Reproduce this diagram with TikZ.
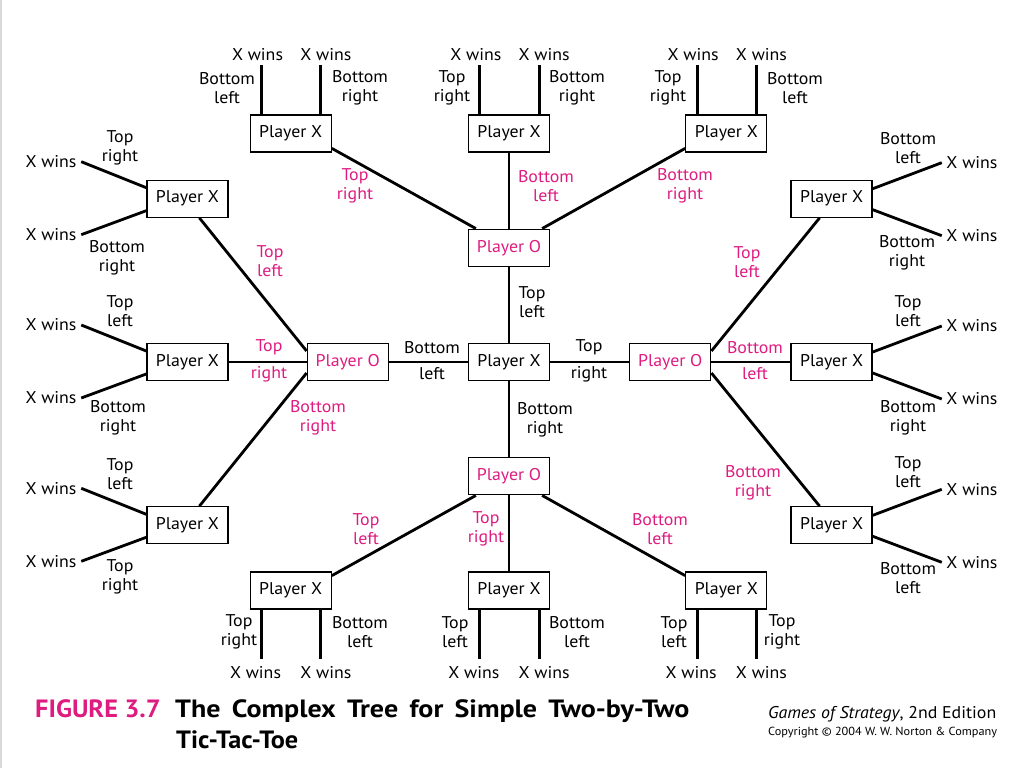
\documentclass[tikz,border=0pt]{standalone}
\usepackage{fontspec}
\setmainfont{PT Sans}[FakeStretch=1.05]
\newfontfamily\titlefont{PT Sans}[FakeStretch=1.12, WordSpace=1.6]
\usetikzlibrary{positioning}
\definecolor{OMagenta}{RGB}{222,28,128}
\tikzstyle{PlayerBox}=[rectangle, draw=black, line width=1.3pt, fill=white, minimum width=81pt, minimum height=37pt, inner sep=0pt, font=\fontsize{17}{19}\selectfont]
\tikzstyle{PlayerO}=[PlayerBox, text=OMagenta]
\tikzstyle{Jugada}=[align=center, inner sep=2pt, font=\fontsize{17}{19}\selectfont]
\tikzstyle{JugadaO}=[Jugada, text=OMagenta]
\tikzstyle{Win}=[font=\fontsize{17}{19}\selectfont]
\tikzstyle{Rama}=[-, line width=2.8pt]
\tikzstyle{Pie}=[anchor=base west, inner sep=0pt]

\begin{document}
\begin{tikzpicture}[x=1pt, y=-1pt]
			\useasboundingbox (0,0) rectangle (1024,768);
			\draw[gray!30, line width=1.5pt] (1,0) -- (1,768);

			%Nodos
			\node[PlayerBox]	(centro)								at (509,362)	{Player X};
			\node[PlayerO]		(potop)		[above=76pt of centro]					{Player O};
			\node[PlayerO]		(pobot)		[below=76pt of centro]					{Player O};
			\node[PlayerO]		(poleft)	[left=79pt of centro]					{Player O};
			\node[PlayerO]		(poright)	[right=79pt of centro]					{Player O};

			\node[PlayerBox]	(xtm)		[above=76pt of potop]					{Player X};
			\node[PlayerBox]	(xtl)		[above left=76pt and 136pt of potop]		{Player X};
			\node[PlayerBox]	(xtr)		[above right=76pt and 135pt of potop]	{Player X};

			\node[PlayerBox]	(xlm)		[left=78pt of poleft]					{Player X};
			\node[PlayerBox]	(xlt)		[above left=125pt and 78pt of poleft]	{Player X};
			\node[PlayerBox]	(xlb)		[below left=125pt and 78pt of poleft]	{Player X};

			\node[PlayerBox]	(xrm)		[right=79pt of poright]					{Player X};
			\node[PlayerBox]	(xrt)		[above right=125pt and 79pt of poright]	{Player X};
			\node[PlayerBox]	(xrb)		[below right=125pt and 79pt of poright]	{Player X};

			\node[PlayerBox]	(xbm)		[below=76pt of pobot]					{Player X};
			\node[PlayerBox]	(xbl)		[below left=76pt and 136pt of pobot]		{Player X};
			\node[PlayerBox]	(xbr)		[below right=76pt and 135pt of pobot]	{Player X};

			%Lineas
			\draw[Rama] (centro) -- (potop);
			\draw[Rama] (centro) -- (pobot);
			\draw[Rama] (centro) -- (poleft);
			\draw[Rama] (centro) -- (poright);

			\draw[Rama] (potop.150) -- (xtl.-20);
			\draw[Rama] (potop) -- (xtm);
			\draw[Rama] (potop.30) -- (xtr.200);
			\draw[Rama] (poleft.165) -- (xlt.-58);
			\draw[Rama] (poleft) -- (xlm);
			\draw[Rama] (poleft.195) -- (xlb.58);
			\draw[Rama] (poright.15) -- (xrt.238);
			\draw[Rama] (poright) -- (xrm);
			\draw[Rama] (poright.-15) -- (xrb.122);
			\draw[Rama] (pobot.210) -- (xbl.20);
			\draw[Rama] (pobot) -- (xbm);
			\draw[Rama] (pobot.-30) -- (xbr.160);

			%Hojas
			\draw[Rama] ([xshift=12pt]xtl.north west) -- ++(0pt,49pt) node[Win,above,xshift=-4pt] (xtl_w1) {X wins};
			\draw[Rama] ([xshift=-11pt]xtl.north east) -- ++(0pt,49pt) node[Win,above,xshift=5pt] (xtl_w2) {X wins};
			\draw[Rama] ([xshift=12pt]xtm.north west) -- ++(0pt,49pt) node[Win,above,xshift=-4pt] (xtm_w1) {X wins};
			\draw[Rama] ([xshift=-11pt]xtm.north east) -- ++(0pt,49pt) node[Win,above,xshift=5pt] (xtm_w2) {X wins};
			\draw[Rama] ([xshift=12pt]xtr.north west) -- ++(0pt,49pt) node[Win,above,xshift=-4pt] (xtr_w1) {X wins};
			\draw[Rama] ([xshift=-11pt]xtr.north east) -- ++(0pt,49pt) node[Win,above,xshift=5pt] (xtr_w2) {X wins};

			\draw[Rama] ([xshift=12pt]xbl.south west) -- ++(0pt,-49pt) node[Win,below,xshift=-6pt,yshift=-3pt] (xbl_w1) {X wins};
			\draw[Rama] ([xshift=-11pt]xbl.south east) -- ++(0pt,-49pt) node[Win,below,xshift=5pt,yshift=-3pt] (xbl_w2) {X wins};
			\draw[Rama] ([xshift=12pt]xbm.south west) -- ++(0pt,-49pt) node[Win,below,xshift=-6pt,yshift=-3pt] (xbm_w1) {X wins};
			\draw[Rama] ([xshift=-11pt]xbm.south east) -- ++(0pt,-49pt) node[Win,below,xshift=5pt,yshift=-3pt] (xbm_w2) {X wins};
			\draw[Rama] ([xshift=12pt]xbr.south west) -- ++(0pt,-49pt) node[Win,below,xshift=-6pt,yshift=-3pt] (xbr_w1) {X wins};
			\draw[Rama] ([xshift=-11pt]xbr.south east) -- ++(0pt,-49pt) node[Win,below,xshift=5pt,yshift=-3pt] (xbr_w2) {X wins};

			\draw[Rama] ([yshift=11pt]xlt.west) -- ++(-65pt,26pt) node[Win,left] (xlt_w1) {X wins};
			\draw[Rama] ([yshift=-12pt]xlt.west) -- ++(-65pt,-24pt) node[Win,left] (xlt_w2) {X wins};
			\draw[Rama] ([yshift=11pt]xlm.west) -- ++(-65pt,26pt) node[Win,left] (xlm_w1) {X wins};
			\draw[Rama] ([yshift=-12pt]xlm.west) -- ++(-65pt,-24pt) node[Win,left] (xlm_w2) {X wins};
			\draw[Rama] ([yshift=11pt]xlb.west) -- ++(-65pt,26pt) node[Win,left] (xlb_w1) {X wins};
			\draw[Rama] ([yshift=-12pt]xlb.west) -- ++(-65pt,-24pt) node[Win,left] (xlb_w2) {X wins};

			\draw[Rama] ([yshift=10pt]xrt.east) -- ++(69pt,26pt) node[Win,right] (xrt_w1) {X wins};
			\draw[Rama] ([yshift=-11pt]xrt.east) -- ++(69pt,-26pt) node[Win,right] (xrt_w2) {X wins};
			\draw[Rama] ([yshift=10pt]xrm.east) -- ++(69pt,26pt) node[Win,right] (xrm_w1) {X wins};
			\draw[Rama] ([yshift=-11pt]xrm.east) -- ++(69pt,-26pt) node[Win,right] (xrm_w2) {X wins};
			\draw[Rama] ([yshift=10pt]xrb.east) -- ++(69pt,26pt) node[Win,right] (xrb_w1) {X wins};
			\draw[Rama] ([yshift=-11pt]xrb.east) -- ++(69pt,-26pt) node[Win,right] (xrb_w2) {X wins};

			%Etiquetas hojas
			\node[Jugada] (xtl_j1) at (227,88) {Bottom\\left};
			\node[Jugada] (xtl_j2) at (360,88) {Bottom\\right};
			\node[Jugada] (xtm_j1) at (452,88) {Top\\right};
			\node[Jugada] (xtm_j2) at (577,88) {Bottom\\right};
			\node[Jugada] (xtr_j1) at (668,88) {Top\\right};
			\node[Jugada] (xtr_j2) at (795,88) {Bottom\\left};

			\node[Jugada] (xbl_j1) at (239,632) {Top\\right};
			\node[Jugada] (xbl_j2) at (360,632) {Bottom\\left};
			\node[Jugada] (xbm_j1) at (455,632) {Top\\left};
			\node[Jugada] (xbm_j2) at (577,632) {Bottom\\left};
			\node[Jugada] (xbr_j1) at (674,632) {Top\\left};
			\node[Jugada] (xbr_j2) at (782,632) {Top\\right};

			\node[Jugada] (xlt_j1) at (120,148) {Top\\right};
			\node[Jugada] (xlt_j2) at (117,258) {Bottom\\right};
			\node[Jugada] (xlm_j1) at (120,311) {Top\\left};
			\node[Jugada] (xlm_j2) at (118,418) {Bottom\\right};
			\node[Jugada] (xlb_j1) at (120,474) {Top\\left};
			\node[Jugada] (xlb_j2) at (120,577) {Top\\right};

			\node[Jugada] (xrt_j1) at (908,148) {Bottom\\left};
			\node[Jugada] (xrt_j2) at (907,253) {Bottom\\right};
			\node[Jugada] (xrm_j1) at (908,311) {Top\\left};
			\node[Jugada] (xrm_j2) at (908,418) {Bottom\\right};
			\node[Jugada] (xrb_j1) at (908,472) {Top\\left};
			\node[Jugada] (xrb_j2) at (908,578) {Bottom\\left};

			%Etiquetas centro
			\node[Jugada] (c_j1) at (532,302) {Top\\left};
			\node[Jugada] (c_j2a) at (432,348) {Bottom};
			\node[Jugada] (c_j2b) at (432,374) {left};
			\node[Jugada] (c_j3a) at (589,347) {Top};
			\node[Jugada] (c_j3b) at (589,374) {right};
			\node[Jugada] (c_j4) at (545,420) {Bottom\\right};

			\node[JugadaO] (ot_j1) at (355,186) {Top\\right};
			\node[JugadaO] (ot_j2) at (546,186) {Bottom\\left};
			\node[JugadaO] (ot_j3) at (685,186) {Bottom\\right};
			\node[JugadaO] (ol_j1) at (270,261) {Top\\left};
			\node[JugadaO] (ol_j2a) at (269,347) {Top};
			\node[JugadaO] (ol_j2b) at (269,374) {right};
			\node[JugadaO] (ol_j3) at (318,418) {Bottom\\right};
			\node[JugadaO] (or_j1) at (747,262) {Top\\left};
			\node[JugadaO] (or_j2a) at (755,348) {Bottom};
			\node[JugadaO] (or_j2b) at (755,374) {left};
			\node[JugadaO] (or_j3) at (753,483) {Bottom\\right};
			\node[JugadaO] (ob_j1) at (366,529) {Top\\left};
			\node[JugadaO] (ob_j2) at (486,529) {Top\\right};
			\node[JugadaO] (ob_j3) at (660,529) {Bottom\\left};

			%Pie
			\node[Pie, text=OMagenta, font=\fontsize{25}{29}\selectfont\bfseries] (figura) at (35,717) {FIGURE 3.7};
			\node[Pie, font=\titlefont\fontsize{25}{29}\selectfont\bfseries] (titulo) at (175,717) {The Complex Tree for Simple Two-by-Two};
			\node[Pie, font=\fontsize{25}{29}\selectfont\bfseries] (titulo2) at (176,748) {Tic-Tac-Toe};
			\node[Pie, font=\fontsize{17}{20}\selectfont] (libro) at (768,718) {\textit{Games of Strategy}, 2nd Edition};
			\node[Pie, font=\fontsize{11.7}{14}\selectfont] (copia) at (768,735) {Copyright \textcopyright{} 2004 W. W. Norton \& Company};

\end{tikzpicture}
\end{document}
